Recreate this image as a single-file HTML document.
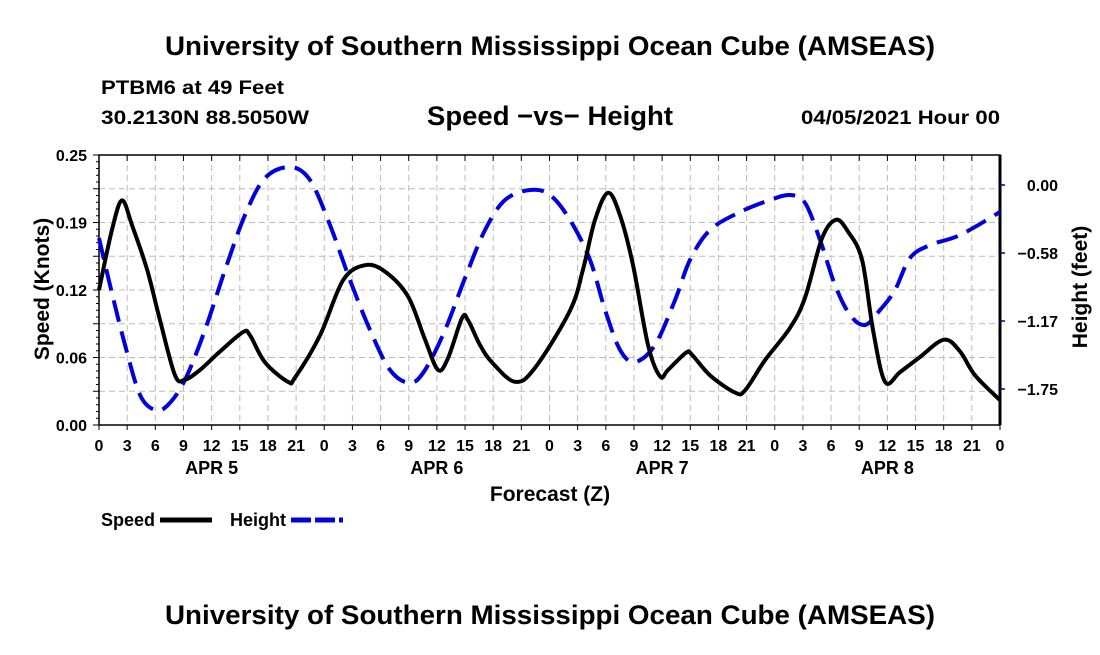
<!DOCTYPE html>
<html><head><meta charset="utf-8"><style>
body{margin:0;background:#fff;}
svg text{font-family:"Liberation Sans",Arial,sans-serif;font-weight:bold;fill:#000;}
</style></head><body>
<svg width="1100" height="650" xmlns="http://www.w3.org/2000/svg">
<text x="550" y="55" font-size="27" text-anchor="middle" textLength="770" lengthAdjust="spacingAndGlyphs">University of Southern Mississippi Ocean Cube (AMSEAS)</text>
<text x="101" y="94" font-size="19" textLength="183" lengthAdjust="spacingAndGlyphs">PTBM6 at 49 Feet</text>
<text x="101" y="124" font-size="19" textLength="208" lengthAdjust="spacingAndGlyphs">30.2130N  88.5050W</text>
<text x="550" y="125" font-size="27" text-anchor="middle" textLength="246" lengthAdjust="spacingAndGlyphs">Speed −vs− Height</text>
<text x="1000" y="124" font-size="19" text-anchor="end" textLength="199" lengthAdjust="spacingAndGlyphs">04/05/2021 Hour 00</text>
<g id="grid"></g>
<g id="axes"></g>
<path id="hLine" fill="none" stroke="#0000dd" stroke-width="4" stroke-dasharray="22,10"/>
<path id="sLine" fill="none" stroke="#000" stroke-width="4"/>
<text font-size="21" text-anchor="middle" transform="rotate(-90 42 289)"><tspan x="42" y="296">Speed (Knots)</tspan></text>
<text font-size="21" text-anchor="middle" transform="rotate(-90 1080 287)"><tspan x="1080" y="294">Height (feet)</tspan></text>
<text x="550" y="501" font-size="21" text-anchor="middle">Forecast (Z)</text>
<text x="101" y="526" font-size="18">Speed</text>
<line x1="160" y1="520" x2="212" y2="520" stroke="#000" stroke-width="5"/>
<text x="230" y="526" font-size="18">Height</text>
<line x1="291" y1="520" x2="343" y2="520" stroke="#0000dd" stroke-width="5" stroke-dasharray="20,4"/>
<text x="550" y="624" font-size="27" text-anchor="middle" textLength="770" lengthAdjust="spacingAndGlyphs">University of Southern Mississippi Ocean Cube (AMSEAS)</text>
</svg>
<script>
const speedHours=[0,1.39,2.45,3.52,5.12,6.5,8.1,9.16,10.76,12.89,15.34,16.09,17.69,20.14,20.89,23.55,26.0,28.35,30.48,32.93,34.74,36.12,37.19,38.68,39.32,40.6,41.87,44.33,46.46,50.19,51.57,52.85,54.24,55.52,56.9,58.5,59.78,60.63,62.55,63.19,65.1,67.77,68.83,70.96,73.63,75.23,77.04,78.53,79.81,81.3,82.47,83.75,85.35,87.48,90.04,91.75,93.34,96];
const speedValues=[.125,.181,.208,.185,.144,.097,.046,.042,.051,.068,.086,.083,.058,.040,.044,.083,.134,.148,.142,.119,.079,.051,.062,.099,.097,.074,.058,.040,.053,.106,.144,.190,.215,.194,.148,.074,.045,.051,.067,.065,.046,.030,.032,.060,.090,.118,.173,.190,.179,.153,.088,.040,.049,.063,.079,.068,.046,.023];
const heightHours=[0,1.17,2.77,4.37,5.97,7.35,9.16,11.29,13.43,15.56,17.69,20.35,22.48,24.61,26.74,28.88,31.01,33.14,34.74,36.87,39.0,41.13,43.26,45.92,48.06,50.19,52.32,53.92,55.52,57.11,59.24,61.38,62.97,65.1,68.3,71.5,73.63,75.23,76.83,78.42,80.02,81.62,83.22,84.82,86.41,88.55,91.74,96];
const heightValues=[-.455,-.858,-1.372,-1.801,-1.930,-1.887,-1.672,-1.244,-.729,-.257,.060,.154,.043,-.343,-.815,-1.244,-1.587,-1.698,-1.587,-1.244,-.798,-.386,-.129,-.043,-.086,-.300,-.643,-1.072,-1.415,-1.518,-1.372,-.986,-.643,-.386,-.232,-.129,-.086,-.154,-.472,-.858,-1.115,-1.201,-1.072,-.900,-.626,-.515,-.429,-.232];
const leftTicks=[0,0.0625,0.125,0.1875,0.25];
const leftTickLabels=["0.00","0.06","0.12","0.19","0.25"];
const rightTicks=[0,-0.583,-1.167,-1.75];
const rightTickLabels=["0.00","−0.58","−1.17","−1.75"];
const hourLabels=["0","3","6","9","12","15","18","21"];
const dayLabels=["APR 5","APR 6","APR 7","APR 8"];
const X0=99,X1=1000,Y0=425,Y1=155;
const xs=h=>X0+h*(X1-X0)/96;
const ys=v=>Y0-v*(Y0-Y1)/0.25;
const yh=v=>185-v*(389-185)/1.75;
const NS="http://www.w3.org/2000/svg";
function mk(p,t,a){const e=document.createElementNS(NS,t);for(const k in a)e.setAttribute(k,a[k]);p.appendChild(e);return e;}
function smooth(pts){let d="M"+pts[0][0]+","+pts[0][1];for(let i=0;i<pts.length-1;i++){const p0=pts[Math.max(0,i-1)],p1=pts[i],p2=pts[i+1],p3=pts[Math.min(pts.length-1,i+2)];d+=" C"+(p1[0]+(p2[0]-p0[0])/6)+","+(p1[1]+(p2[1]-p0[1])/6)+" "+(p2[0]-(p3[0]-p1[0])/6)+","+(p2[1]-(p3[1]-p1[1])/6)+" "+p2[0]+","+p2[1];}return d;}
const grid=document.getElementById('grid'),axes=document.getElementById('axes');
for(let h=3;h<96;h+=3){const l=mk(grid,'line',{x1:xs(h),x2:xs(h),y1:Y1,y2:Y0,stroke:'#bbb','stroke-dasharray':'6,4'});

}
for(let i=1;i<8;i++){const v=i*0.03125;const l=mk(grid,'line',{x1:X0,x2:X1,y1:ys(v),y2:ys(v),stroke:'#bbb','stroke-dasharray':'6,4'});

}
mk(axes,'rect',{x:X0,y:Y1,width:X1-X0,height:Y0-Y1,fill:'none',stroke:'#000','stroke-width':1.5});
mk(axes,'line',{x1:X1,x2:X1,y1:Y1,y2:Y0,stroke:'#000','stroke-width':3});
for(let i=0;i<=40;i++){const v=i*0.25/40;mk(axes,'line',{x1:X0-(i%5==0?6:3),x2:X0,y1:ys(v),y2:ys(v),stroke:'#000'});}
leftTicks.forEach((v,i)=>{const t=mk(axes,'text',{x:X0-12,y:ys(v)+6,'font-size':16,'text-anchor':'end'});t.textContent=leftTickLabels[i];

});
rightTicks.forEach((v,i)=>{mk(axes,'line',{x1:X1,x2:X1+5,y1:yh(v),y2:yh(v),stroke:'#000088','stroke-width':1.5});const t=mk(axes,'text',{x:1058,y:yh(v)+6,'font-size':16,'text-anchor':'end'});t.textContent=rightTickLabels[i];

});
for(let h=0;h<=96;h+=3){mk(axes,'line',{x1:xs(h),x2:xs(h),y1:Y0,y2:Y0+5,stroke:'#000'});mk(axes,'line',{x1:xs(h),x2:xs(h),y1:Y1,y2:Y1+6,stroke:'#000'});
const t=mk(axes,'text',{x:xs(h),y:Y0+26,'font-size':16,'text-anchor':'middle'});t.textContent=hourLabels[(h/3)%8];

}
dayLabels.forEach((d,i)=>{const t=mk(axes,'text',{x:xs(12+24*i),y:Y0+49,'font-size':18,'text-anchor':'middle'});t.textContent=d;

});
document.getElementById('sLine').setAttribute('d',smooth(speedHours.map((h,i)=>[xs(h),ys(speedValues[i])])));
document.getElementById('hLine').setAttribute('d',smooth(heightHours.map((h,i)=>[xs(h),yh(heightValues[i])])));
</script>
</body></html>
